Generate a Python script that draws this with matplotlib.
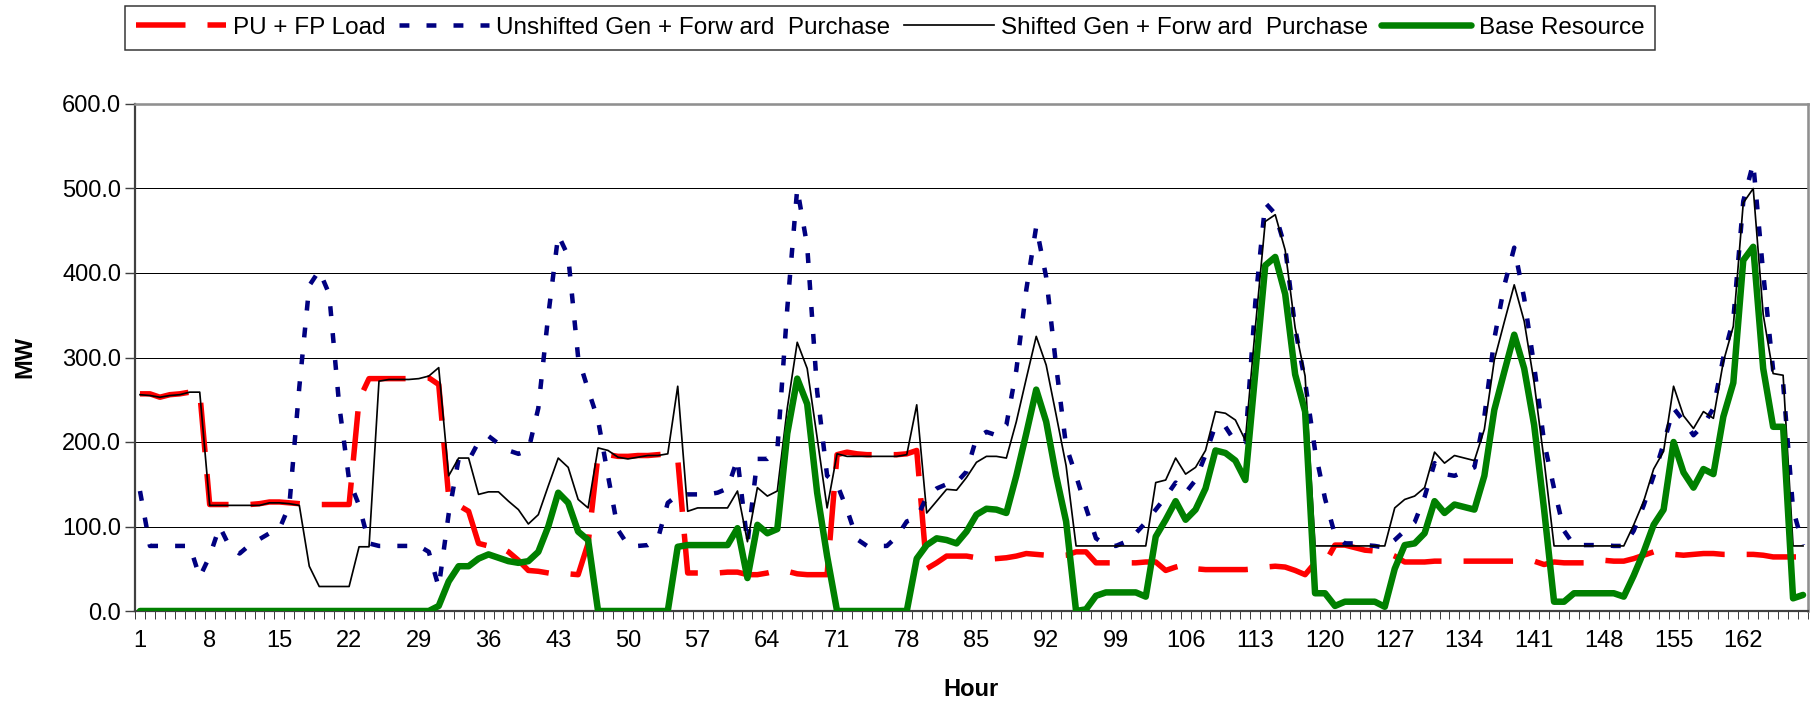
import matplotlib
matplotlib.use("Agg")
import matplotlib.pyplot as plt
from matplotlib import font_manager as fm
from matplotlib.ticker import FixedLocator, FormatStrFormatter
import numpy as np

# ---------------- data ----------------
hours = list(range(1, 169))

pu_fp_load = [
    257, 257, 253, 256, 257, 259, 259, 126, 126, 126,
    126, 126, 127, 129, 129, 128, 127, 126, 126, 126,
    126, 126, 250, 275, 275, 275, 275, 275, 276, 276,
    268, 135, 125, 118, 80, 77, 77, 70, 60, 48,
    47, 45, 43, 44, 43, 80, 185, 185, 183, 183,
    184, 184, 185, 186, 180, 45, 45, 45, 45, 46,
    46, 43, 43, 45, 48, 47, 44, 43, 43, 43,
    185, 188, 186, 185, 185, 185, 185, 186, 190, 50,
    57, 65, 65, 65, 63, 61, 62, 63, 65, 68,
    67, 66, 65, 66, 70, 70, 57, 57, 57, 57,
    57, 58, 58, 48, 52, 55, 50, 49, 49, 49,
    49, 49, 50, 52, 53, 52, 48, 43, 57, 57,
    78, 78, 75, 72, 71, 70, 65, 58, 58, 58,
    59, 59, 59, 59, 59, 59, 59, 59, 59, 59,
    59, 55, 58, 57, 57, 57, 58, 60, 59, 59,
    62, 66, 70, 68, 67, 66, 67, 68, 68, 67,
    67, 67, 67, 66, 64, 64, 64, 64,
]

unshifted_gen_fp = [
    142, 77, 77, 77, 77, 77, 40, 65, 100, 76,
    68, 78, 85, 92, 97, 125, 265, 385, 403, 375,
    244, 155, 125, 80, 77, 77, 77, 77, 77, 70,
    28, 115, 180, 178, 200, 207, 198, 190, 186, 190,
    240, 350, 445, 420, 300, 262, 226, 160, 96, 78,
    77, 78, 85, 128, 137, 138, 138, 138, 140, 145,
    180, 80, 180, 180, 190, 358, 500, 432, 260, 160,
    150, 120, 85, 77, 77, 77, 88, 106, 110, 135,
    145, 150, 152, 165, 205, 212, 208, 220, 285, 380,
    455, 395, 290, 195, 160, 122, 86, 78, 77, 82,
    92, 105, 120, 135, 152, 140, 155, 185, 220, 218,
    200, 200, 365, 483, 470, 430, 335, 271, 190, 133,
    90, 80, 80, 78, 77, 75, 84, 95, 105, 135,
    175, 162, 160, 165, 170, 230, 322, 385, 430, 370,
    290, 200, 145, 95, 78, 78, 78, 78, 77, 77,
    95, 125, 160, 198, 240, 225, 208, 220, 240, 300,
    345, 485, 530, 400, 285, 270, 120, 78,
]

shifted_gen_fp = [
    256, 255, 253, 255, 256, 259, 259, 125, 125, 125,
    125, 125, 125, 128, 128, 127, 125, 53, 29, 29,
    29, 29, 76, 76, 272, 274, 274, 274, 275, 278,
    288, 160, 181, 181, 138, 141, 141, 130, 120, 103,
    114, 148, 181, 170, 132, 122, 193, 190, 182, 180,
    182, 184, 184, 186, 266, 118, 122, 122, 122, 122,
    142, 82, 146, 136, 142, 240, 318, 287, 205, 122,
    186, 183, 183, 183, 183, 183, 183, 185, 244, 116,
    130, 144, 143, 158, 176, 183, 183, 181, 224, 275,
    325, 291, 232, 172, 77, 77, 77, 77, 77, 77,
    77, 77, 152, 155, 181, 162, 170, 190, 236, 234,
    226, 202, 335, 461, 469, 427, 335, 278, 77, 77,
    77, 77, 77, 77, 77, 77, 122, 132, 136, 146,
    188, 175, 184, 181, 178, 215, 297, 342, 386, 343,
    270, 178, 77, 77, 77, 77, 77, 77, 77, 77,
    102, 130, 168, 189, 266, 231, 216, 236, 228, 295,
    337, 483, 500, 351, 281, 279, 77, 77,
]

base_resource = [
    0, 0, 0, 0, 0, 0, 0, 0, 0, 0,
    0, 0, 0, 0, 0, 0, 0, 0, 0, 0,
    0, 0, 0, 0, 0, 0, 0, 0, 0, 0,
    6, 35, 53, 53, 62, 67, 63, 59, 57, 59,
    70, 100, 140, 128, 94, 84, 0, 0, 0, 0,
    0, 0, 0, 0, 76, 78, 78, 78, 78, 78,
    98, 39, 102, 92, 97, 210, 275, 245, 140, 65,
    0, 0, 0, 0, 0, 0, 0, 0, 62, 78,
    86, 84, 80, 94, 114, 121, 120, 116, 160, 210,
    262, 224, 160, 106, 0, 2, 18, 22, 22, 22,
    22, 17, 88, 108, 130, 108, 120, 145, 190, 187,
    178, 155, 282, 409, 419, 375, 280, 236, 21, 21,
    6, 11, 11, 11, 11, 5, 50, 78, 80, 92,
    130, 116, 126, 123, 120, 160, 238, 283, 327, 287,
    220, 120, 11, 11, 21, 21, 21, 21, 21, 17,
    42, 70, 102, 120, 200, 164, 146, 168, 162, 230,
    270, 415, 431, 287, 218, 218, 15, 19,
]

x_tick_values = list(range(1, 169, 7))
x_tick_labels = [str(v) for v in x_tick_values]
y_tick_values = [0, 100, 200, 300, 400, 500, 600]

series_labels = [
    "PU + FP Load",
    "Unshifted Gen + Forw ard  Purchase",
    "Shifted Gen + Forw ard  Purchase",
    "Base Resource",
]

# ---------------- styling ----------------
W, H, DPI = 1814, 704, 100
PX = 72.0 / DPI  # points per pixel

names = {f.name for f in fm.fontManager.ttflist}
base_font = "Liberation Sans" if "Liberation Sans" in names else "DejaVu Sans"
plt.rcParams["font.family"] = [base_font, "DejaVu Sans"]

fig = plt.figure(figsize=(W / DPI, H / DPI), dpi=DPI)
fig.patch.set_facecolor("white")

left, right, top, bottom = 135, 1808, 104, 611
ax = fig.add_axes([left / W, 1 - bottom / H, (right - left) / W, (bottom - top) / H])
ax.set_xlim(0.5, 168.5)
ax.set_ylim(0, 600)

l1, = ax.plot(hours, pu_fp_load, color="#ff0000", lw=5.5 * PX, dashes=(9, 4),
              dash_capstyle="butt", solid_joinstyle="miter", zorder=3)
l2, = ax.plot(hours, unshifted_gen_fp, color="#000080", lw=4.5 * PX, dashes=(2.2, 3.8),
              dash_capstyle="butt", zorder=4)
l3, = ax.plot(hours, shifted_gen_fp, color="black", lw=1.7 * PX, zorder=5)
l4, = ax.plot(hours, base_resource, color="#008000", lw=6.5 * PX,
              solid_joinstyle="round", solid_capstyle="round", zorder=6)

# grid
ax.yaxis.set_major_locator(FixedLocator(y_tick_values))
ax.yaxis.set_major_formatter(FormatStrFormatter("%.1f"))
ax.yaxis.grid(True, color="black", lw=1.0 * PX, zorder=1)
ax.set_axisbelow(True)

# x ticks: labels every 7 hours, tick marks at every category boundary
ax.xaxis.set_major_locator(FixedLocator(x_tick_values))
ax.set_xticklabels(x_tick_labels)
ax.xaxis.set_minor_locator(FixedLocator(np.arange(0.5, 169, 1.0)))
ax.tick_params(axis="x", which="major", length=0, pad=14, labelsize=17)
ax.tick_params(axis="x", which="minor", length=6, width=1.0 * PX, color="#404040", direction="out")
ax.tick_params(axis="y", which="major", length=7, width=1.4 * PX, color="#404040",
               direction="out", pad=3, labelsize=17)

for side in ("left", "bottom"):
    ax.spines[side].set_color("#404040")
    ax.spines[side].set_linewidth(2.2 * PX)
for side in ("top", "right"):
    ax.spines[side].set_color("#909090")
    ax.spines[side].set_linewidth(2.6 * PX)

fig.text(25 / W, 1 - 357 / H, "MW", rotation=90, ha="center", va="center",
         fontsize=17, fontweight="bold")
fig.text(971 / W, 1 - 690 / H, "Hour", ha="center", va="center",
         fontsize=17, fontweight="bold")

leg = fig.legend([l1, l2, l3, l4], series_labels, loc="upper left",
                 bbox_to_anchor=(125 / W, 1 - 6 / H), ncol=4, frameon=True,
                 fancybox=False, edgecolor="black", fontsize=17.5,
                 handlelength=3.7, handletextpad=0.3, columnspacing=0.55,
                 borderpad=0.45, borderaxespad=0)
leg.get_frame().set_linewidth(1.5 * PX)

fig.savefig("out.png", dpi=DPI, facecolor="white")
